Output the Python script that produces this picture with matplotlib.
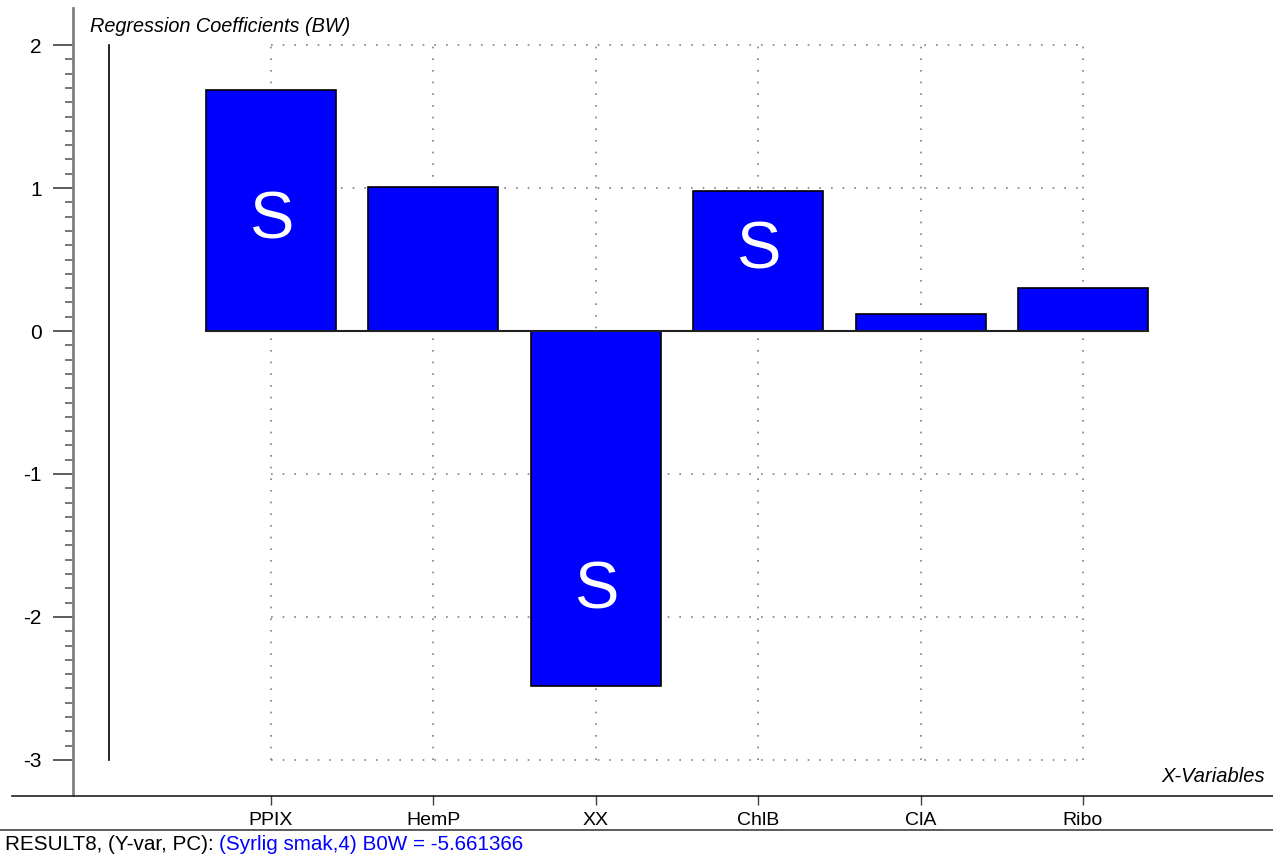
import numpy as np
import matplotlib.pyplot as plt
from matplotlib.lines import Line2D

plt.rcParams['font.family'] = ['Liberation Sans', 'DejaVu Sans']

# data
variables = ['PPIX', 'HemP', 'XX', 'ChlB', 'ClA', 'Ribo']
coefs = [1.685, 1.007, -2.48, 0.98, 0.119, 0.30]
sig_vars = ['PPIX', 'XX', 'ChlB']
sig_label_y = [0.65, -1.94, 0.44]   # baseline of the "S" marks
y_ticks = [-3, -2, -1, 0, 1, 2]

W, H = 1273, 856
fig = plt.figure(figsize=(W / 100, H / 100), dpi=100)
ax = fig.add_axes([73 / W, 1 - 795 / H, 1 - 73 / W, 787 / H])

x = np.arange(len(variables))

# dotted grid between first and last variable
for yv in y_ticks:
    if yv != 0:
        ax.plot([x[0], x[-1]], [yv, yv], color='#808080', lw=1.2,
                ls=(0, (1, 6)), zorder=0)
for xv in x:
    ax.plot([xv, xv], [y_ticks[0], y_ticks[-1]], color='#808080', lw=1.2,
            ls=(0, (1, 6)), zorder=0)

ax.bar(x, coefs, width=0.8, color='#0000ff', edgecolor='black', lw=1.2, zorder=2)
ax.plot([x[0] - 0.4, x[-1] + 0.4], [0, 0], color='#202020', lw=1.5, zorder=3)

# vertical reference line at the left
ax.plot([-1, -1], [y_ticks[0], y_ticks[-1]], color='black', lw=1.2)

for name, ly in zip(sig_vars, sig_label_y):
    ax.text(variables.index(name), ly, 'S', color='white', fontsize=48,
            ha='center', va='baseline', zorder=4)

ax.set_xlim(-1.219, 6.170)
ax.set_ylim(-3.245, 2.259)

ax.set_xticks(x)
ax.set_xticklabels(variables, fontsize=14)
ax.set_yticks(y_ticks)
ax.set_yticklabels([str(v) for v in y_ticks], fontsize=15)
ax.set_yticks(np.arange(-3.0, 2.05, 0.1), minor=True)
ax.tick_params(axis='y', which='major', length=14.4, width=1.2, pad=8, color='#404040')
ax.tick_params(axis='y', which='minor', length=6, width=1.2, color='#606060')
ax.tick_params(axis='x', which='major', length=7, width=1, pad=5, color='#404040')

for s in ['top', 'right', 'bottom']:
    ax.spines[s].set_visible(False)
ax.spines['left'].set_color('#808080')
ax.spines['left'].set_linewidth(2)

ax.text(90 / W, 1 - 26 / H, 'Regression Coefficients (BW)', transform=fig.transFigure,
        fontsize=14.3, style='italic', ha='left', va='center')
ax.text(1265 / W, 1 - 776 / H, 'X-Variables', transform=fig.transFigure,
        fontsize=14.5, style='italic', ha='right', va='center')

# frame lines under the plot
fig.add_artist(Line2D([12 / W, 1], [1 - 795.5 / H, 1 - 795.5 / H], color='#202020', lw=1.2))
fig.add_artist(Line2D([0, 1], [1 - 830 / H, 1 - 830 / H], color='#404040', lw=1.2))

t1 = fig.text(5 / W, 1 - 845 / H, 'RESULT8, (Y-var, PC): ', fontsize=14.9,
              ha='left', va='center', color='black')
fig.canvas.draw()
bb = t1.get_window_extent()
fig.text(bb.x1 / W, 1 - 845 / H, '(Syrlig smak,4) B0W = -5.661366', fontsize=14.9,
         ha='left', va='center', color='#0000ff')

fig.savefig('out.png', dpi=100)
